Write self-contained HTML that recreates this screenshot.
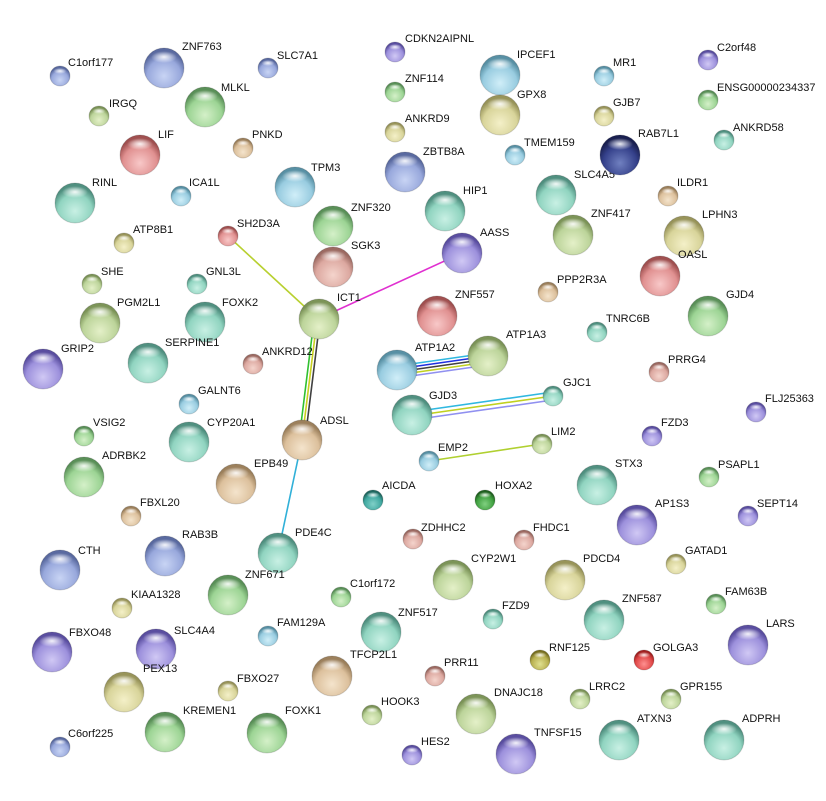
<!DOCTYPE html>
<html><head><meta charset="utf-8"><style>
html,body{margin:0;padding:0;background:#fff;width:826px;height:801px;overflow:hidden}
svg text{font-family:"Liberation Sans",Arial,sans-serif;font-size:11px;fill:#111}
</style></head><body>
<svg width="826" height="801" viewBox="0 0 826 801" xmlns="http://www.w3.org/2000/svg">
<defs>
<radialGradient id="hl" cx="50%" cy="50%" r="50%"><stop offset="0" stop-color="#fff" stop-opacity="0.9"/><stop offset="1" stop-color="#fff" stop-opacity="0"/></radialGradient>
<radialGradient id="b" cx="50%" cy="70%" r="60%"><stop offset="0" stop-color="#c8d4f4"/><stop offset="0.7" stop-color="#98a8dc"/><stop offset="1" stop-color="#5a6aa0"/></radialGradient>
<radialGradient id="p" cx="50%" cy="70%" r="60%"><stop offset="0" stop-color="#d0c8f4"/><stop offset="0.7" stop-color="#9c90dc"/><stop offset="1" stop-color="#5a4ea0"/></radialGradient>
<radialGradient id="g" cx="50%" cy="70%" r="60%"><stop offset="0" stop-color="#d4f0c8"/><stop offset="0.7" stop-color="#9cd494"/><stop offset="1" stop-color="#5a9058"/></radialGradient>
<radialGradient id="y" cx="50%" cy="70%" r="60%"><stop offset="0" stop-color="#f4f0c8"/><stop offset="0.7" stop-color="#d8d49a"/><stop offset="1" stop-color="#98945a"/></radialGradient>
<radialGradient id="yg" cx="50%" cy="70%" r="60%"><stop offset="0" stop-color="#e4f0c8"/><stop offset="0.7" stop-color="#bcd49a"/><stop offset="1" stop-color="#7c9458"/></radialGradient>
<radialGradient id="t" cx="50%" cy="70%" r="60%"><stop offset="0" stop-color="#c8f0e4"/><stop offset="0.7" stop-color="#90d4c0"/><stop offset="1" stop-color="#509080"/></radialGradient>
<radialGradient id="c" cx="50%" cy="70%" r="60%"><stop offset="0" stop-color="#d0eef8"/><stop offset="0.7" stop-color="#98cce0"/><stop offset="1" stop-color="#5890a4"/></radialGradient>
<radialGradient id="r" cx="50%" cy="70%" r="60%"><stop offset="0" stop-color="#f8c8c8"/><stop offset="0.7" stop-color="#e09090"/><stop offset="1" stop-color="#a05050"/></radialGradient>
<radialGradient id="k" cx="50%" cy="70%" r="60%"><stop offset="0" stop-color="#f4d4cc"/><stop offset="0.7" stop-color="#dca8a0"/><stop offset="1" stop-color="#9c6a62"/></radialGradient>
<radialGradient id="n" cx="50%" cy="70%" r="60%"><stop offset="0" stop-color="#f4e4cc"/><stop offset="0.7" stop-color="#dcc09c"/><stop offset="1" stop-color="#9c805c"/></radialGradient>
<radialGradient id="db" cx="50%" cy="70%" r="60%"><stop offset="0" stop-color="#7080c0"/><stop offset="0.7" stop-color="#34408a"/><stop offset="1" stop-color="#1a2050"/></radialGradient>
<radialGradient id="gr" cx="50%" cy="70%" r="60%"><stop offset="0" stop-color="#80d080"/><stop offset="0.7" stop-color="#40a040"/><stop offset="1" stop-color="#206020"/></radialGradient>
<radialGradient id="ol" cx="50%" cy="70%" r="60%"><stop offset="0" stop-color="#e0e090"/><stop offset="0.7" stop-color="#b8b050"/><stop offset="1" stop-color="#787020"/></radialGradient>
<radialGradient id="rd" cx="50%" cy="70%" r="60%"><stop offset="0" stop-color="#ff9090"/><stop offset="0.7" stop-color="#e04848"/><stop offset="1" stop-color="#a02020"/></radialGradient>
<radialGradient id="tc" cx="50%" cy="70%" r="60%"><stop offset="0" stop-color="#80d0c8"/><stop offset="0.7" stop-color="#40a8a0"/><stop offset="1" stop-color="#206860"/></radialGradient>
<g id="S"><circle r="10" stroke="#000" stroke-opacity="0.15"/><ellipse cy="-5" rx="6.5" ry="3" fill="url(#hl)"/></g>
<g id="L"><circle r="20" stroke="#000" stroke-opacity="0.15"/><ellipse cy="-11" rx="13" ry="6" fill="url(#hl)"/></g>
</defs>
<g fill="none" stroke-width="1.6">
<line x1="228" y1="236" x2="318" y2="319" stroke="#b8d030"/>
<line x1="462" y1="253" x2="318" y2="319" stroke="#e030d0"/>
<line x1="314" y1="320" x2="299" y2="440" stroke="#30c030"/>
<line x1="317" y1="320" x2="302" y2="440" stroke="#c8d020"/>
<line x1="320" y1="320" x2="305" y2="440" stroke="#404040"/>
<line x1="302" y1="440" x2="278" y2="553" stroke="#30b0d8"/>
<line x1="397" y1="366" x2="488" y2="353" stroke="#30b8e0"/>
<line x1="397" y1="369" x2="488" y2="356" stroke="#2030e0"/>
<line x1="397" y1="372" x2="488" y2="359" stroke="#404040"/>
<line x1="397" y1="375" x2="488" y2="362" stroke="#c0d020"/>
<line x1="397" y1="378" x2="488" y2="365" stroke="#9090f0"/>
<line x1="412" y1="412" x2="553" y2="392" stroke="#30b8e0"/>
<line x1="412" y1="416" x2="553" y2="396" stroke="#c0d020"/>
<line x1="412" y1="420" x2="553" y2="400" stroke="#9090f0"/>
<line x1="429" y1="461" x2="542" y2="444" stroke="#b0d030"/>
</g>
<use href="#S" x="60" y="76" fill="url(#b)"/><text x="68" y="66">C1orf177</text>
<use href="#L" x="164" y="68" fill="url(#b)"/><text x="182" y="50">ZNF763</text>
<use href="#S" x="268" y="68" fill="url(#b)"/><text x="277" y="59">SLC7A1</text>
<use href="#L" x="205" y="107" fill="url(#g)"/><text x="221" y="91">MLKL</text>
<use href="#S" x="99" y="116" fill="url(#yg)"/><text x="109" y="107">IRGQ</text>
<use href="#S" x="243" y="148" fill="url(#n)"/><text x="252" y="138">PNKD</text>
<use href="#L" x="140" y="155" fill="url(#r)"/><text x="158" y="138">LIF</text>
<use href="#L" x="295" y="187" fill="url(#c)"/><text x="311" y="171">TPM3</text>
<use href="#L" x="75" y="203" fill="url(#t)"/><text x="92" y="186">RINL</text>
<use href="#S" x="181" y="196" fill="url(#c)"/><text x="189" y="186">ICA1L</text>
<use href="#L" x="333" y="226" fill="url(#g)"/><text x="351" y="211">ZNF320</text>
<use href="#S" x="228" y="236" fill="url(#r)"/><text x="237" y="227">SH2D3A</text>
<use href="#S" x="124" y="243" fill="url(#y)"/><text x="133" y="233">ATP8B1</text>
<use href="#L" x="333" y="267" fill="url(#k)"/><text x="351" y="249">SGK3</text>
<use href="#S" x="92" y="284" fill="url(#yg)"/><text x="101" y="275">SHE</text>
<use href="#S" x="197" y="284" fill="url(#t)"/><text x="206" y="275">GNL3L</text>
<use href="#L" x="100" y="323" fill="url(#yg)"/><text x="117" y="306">PGM2L1</text>
<use href="#L" x="205" y="322" fill="url(#t)"/><text x="222" y="306">FOXK2</text>
<use href="#L" x="319" y="319" fill="url(#yg)"/><text x="337" y="301">ICT1</text>
<use href="#L" x="148" y="363" fill="url(#t)"/><text x="165" y="346">SERPINE1</text>
<use href="#S" x="253" y="364" fill="url(#k)"/><text x="262" y="355">ANKRD12</text>
<use href="#L" x="43" y="369" fill="url(#p)"/><text x="61" y="352">GRIP2</text>
<use href="#S" x="189" y="404" fill="url(#c)"/><text x="198" y="394">GALNT6</text>
<use href="#S" x="84" y="436" fill="url(#g)"/><text x="93" y="426">VSIG2</text>
<use href="#L" x="189" y="442" fill="url(#t)"/><text x="207" y="426">CYP20A1</text>
<use href="#L" x="302" y="440" fill="url(#n)"/><text x="320" y="424">ADSL</text>
<use href="#L" x="236" y="484" fill="url(#n)"/><text x="254" y="467">EPB49</text>
<use href="#L" x="84" y="477" fill="url(#g)"/><text x="102" y="459">ADRBK2</text>
<use href="#S" x="131" y="516" fill="url(#n)"/><text x="140" y="506">FBXL20</text>
<use href="#L" x="278" y="553" fill="url(#t)"/><text x="295" y="536">PDE4C</text>
<use href="#L" x="165" y="556" fill="url(#b)"/><text x="182" y="538">RAB3B</text>
<use href="#L" x="60" y="570" fill="url(#b)"/><text x="78" y="554">CTH</text>
<use href="#L" x="228" y="595" fill="url(#g)"/><text x="245" y="578">ZNF671</text>
<use href="#S" x="122" y="608" fill="url(#y)"/><text x="131" y="598">KIAA1328</text>
<use href="#S" x="341" y="597" fill="url(#g)"/><text x="350" y="587">C1orf172</text>
<use href="#S" x="268" y="636" fill="url(#c)"/><text x="277" y="626">FAM129A</text>
<use href="#L" x="156" y="649" fill="url(#p)"/><text x="174" y="634">SLC4A4</text>
<use href="#L" x="52" y="652" fill="url(#p)"/><text x="69" y="636">FBXO48</text>
<use href="#L" x="124" y="692" fill="url(#y)"/><text x="143" y="672">PEX13</text>
<use href="#S" x="228" y="691" fill="url(#y)"/><text x="237" y="682">FBXO27</text>
<use href="#L" x="165" y="732" fill="url(#g)"/><text x="183" y="714">KREMEN1</text>
<use href="#L" x="267" y="733" fill="url(#g)"/><text x="285" y="714">FOXK1</text>
<use href="#S" x="60" y="747" fill="url(#b)"/><text x="68" y="737">C6orf225</text>
<use href="#S" x="395" y="52" fill="url(#p)"/><text x="405" y="42">CDKN2AIPNL</text>
<use href="#S" x="395" y="92" fill="url(#g)"/><text x="405" y="82">ZNF114</text>
<use href="#S" x="395" y="132" fill="url(#y)"/><text x="405" y="122">ANKRD9</text>
<use href="#L" x="405" y="172" fill="url(#b)"/><text x="423" y="155">ZBTB8A</text>
<use href="#L" x="445" y="211" fill="url(#t)"/><text x="463" y="194">HIP1</text>
<use href="#L" x="462" y="253" fill="url(#p)"/><text x="480" y="236">AASS</text>
<use href="#L" x="437" y="316" fill="url(#r)"/><text x="455" y="298">ZNF557</text>
<use href="#L" x="397" y="370" fill="url(#c)"/><text x="415" y="351">ATP1A2</text>
<use href="#L" x="488" y="356" fill="url(#yg)"/><text x="506" y="338">ATP1A3</text>
<use href="#L" x="412" y="415" fill="url(#t)"/><text x="429" y="399">GJD3</text>
<use href="#S" x="429" y="461" fill="url(#c)"/><text x="438" y="451">EMP2</text>
<use href="#S" x="373" y="500" fill="url(#tc)"/><text x="382" y="489">AICDA</text>
<use href="#S" x="485" y="500" fill="url(#gr)"/><text x="495" y="489">HOXA2</text>
<use href="#S" x="413" y="539" fill="url(#k)"/><text x="421" y="531">ZDHHC2</text>
<use href="#S" x="524" y="540" fill="url(#k)"/><text x="533" y="531">FHDC1</text>
<use href="#L" x="453" y="580" fill="url(#yg)"/><text x="471" y="562">CYP2W1</text>
<use href="#L" x="381" y="632" fill="url(#t)"/><text x="398" y="616">ZNF517</text>
<use href="#L" x="332" y="676" fill="url(#n)"/><text x="350" y="658">TFCP2L1</text>
<use href="#S" x="435" y="676" fill="url(#k)"/><text x="444" y="666">PRR11</text>
<use href="#S" x="372" y="715" fill="url(#yg)"/><text x="381" y="705">HOOK3</text>
<use href="#S" x="412" y="755" fill="url(#p)"/><text x="421" y="745">HES2</text>
<use href="#L" x="476" y="714" fill="url(#yg)"/><text x="494" y="696">DNAJC18</text>
<use href="#L" x="516" y="754" fill="url(#p)"/><text x="534" y="736">TNFSF15</text>
<use href="#S" x="493" y="619" fill="url(#t)"/><text x="502" y="609">FZD9</text>
<use href="#L" x="500" y="75" fill="url(#c)"/><text x="517" y="58">IPCEF1</text>
<use href="#L" x="500" y="115" fill="url(#y)"/><text x="517" y="98">GPX8</text>
<use href="#S" x="515" y="155" fill="url(#c)"/><text x="524" y="146">TMEM159</text>
<use href="#L" x="556" y="195" fill="url(#t)"/><text x="574" y="178">SLC4A5</text>
<use href="#L" x="573" y="235" fill="url(#yg)"/><text x="591" y="217">ZNF417</text>
<use href="#S" x="548" y="292" fill="url(#n)"/><text x="557" y="283">PPP2R3A</text>
<use href="#S" x="542" y="444" fill="url(#yg)"/><text x="551" y="435">LIM2</text>
<use href="#S" x="553" y="396" fill="url(#t)"/><text x="563" y="386">GJC1</text>
<use href="#L" x="597" y="485" fill="url(#t)"/><text x="615" y="467">STX3</text>
<use href="#L" x="565" y="580" fill="url(#y)"/><text x="583" y="562">PDCD4</text>
<use href="#L" x="604" y="620" fill="url(#t)"/><text x="622" y="602">ZNF587</text>
<use href="#S" x="540" y="660" fill="url(#ol)"/><text x="549" y="651">RNF125</text>
<use href="#S" x="580" y="699" fill="url(#yg)"/><text x="589" y="690">LRRC2</text>
<use href="#L" x="619" y="740" fill="url(#t)"/><text x="637" y="722">ATXN3</text>
<use href="#S" x="604" y="76" fill="url(#c)"/><text x="613" y="66">MR1</text>
<use href="#S" x="604" y="116" fill="url(#y)"/><text x="613" y="106">GJB7</text>
<use href="#L" x="620" y="155" fill="url(#db)"/><text x="638" y="137">RAB7L1</text>
<use href="#S" x="668" y="196" fill="url(#n)"/><text x="677" y="186">ILDR1</text>
<use href="#L" x="684" y="236" fill="url(#y)"/><text x="702" y="218">LPHN3</text>
<use href="#L" x="660" y="276" fill="url(#r)"/><text x="678" y="258">OASL</text>
<use href="#S" x="597" y="332" fill="url(#t)"/><text x="606" y="322">TNRC6B</text>
<use href="#L" x="708" y="316" fill="url(#g)"/><text x="726" y="298">GJD4</text>
<use href="#S" x="659" y="372" fill="url(#k)"/><text x="668" y="363">PRRG4</text>
<use href="#S" x="652" y="436" fill="url(#p)"/><text x="661" y="426">FZD3</text>
<use href="#S" x="756" y="412" fill="url(#p)"/><text x="765" y="402">FLJ25363</text>
<use href="#S" x="709" y="477" fill="url(#g)"/><text x="718" y="468">PSAPL1</text>
<use href="#L" x="637" y="525" fill="url(#p)"/><text x="655" y="507">AP1S3</text>
<use href="#S" x="748" y="516" fill="url(#p)"/><text x="757" y="507">SEPT14</text>
<use href="#S" x="676" y="564" fill="url(#y)"/><text x="685" y="554">GATAD1</text>
<use href="#S" x="716" y="604" fill="url(#g)"/><text x="725" y="595">FAM63B</text>
<use href="#L" x="748" y="645" fill="url(#p)"/><text x="766" y="627">LARS</text>
<use href="#S" x="644" y="660" fill="url(#rd)"/><text x="653" y="651">GOLGA3</text>
<use href="#S" x="671" y="699" fill="url(#yg)"/><text x="680" y="690">GPR155</text>
<use href="#L" x="724" y="740" fill="url(#t)"/><text x="742" y="722">ADPRH</text>
<use href="#S" x="708" y="60" fill="url(#p)"/><text x="717" y="51">C2orf48</text>
<use href="#S" x="708" y="100" fill="url(#g)"/><text x="717" y="91">ENSG00000234337</text>
<use href="#S" x="724" y="140" fill="url(#t)"/><text x="733" y="131">ANKRD58</text>
</svg>
</body></html>
